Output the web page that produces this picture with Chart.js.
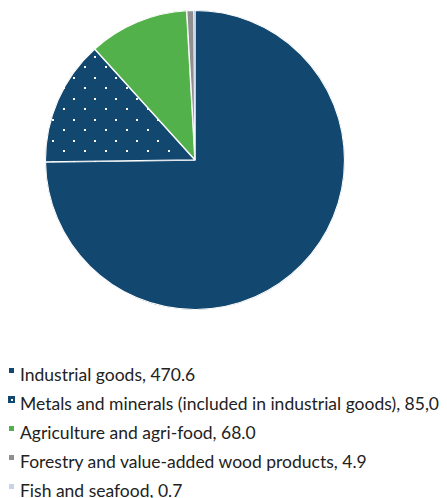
<!DOCTYPE html>
<html>
<head>
<meta charset="utf-8">
<script src="https://cdn.jsdelivr.net/npm/chart.js@4/dist/chart.umd.min.js"></script>
<style>
  body { margin: 0; background: #fff; width: 447px; height: 498px; overflow: hidden; position: relative; }
  #chartWrap { position: absolute; left: 0; top: 0; width: 447px; height: 320px; }
  #legend { position: absolute; left: 0; top: 360px; font-family: Lato, "Open Sans", sans-serif; font-size: 17.5px; color: #222; }
  .item { position: relative; height: 29px; line-height: 29px; padding-left: 20px; white-space: nowrap; }
  .swatch { position: absolute; left: 9px; top: 8px; width: 5px; height: 5px; }
  .swatch.pattern { left: 8px; top: 7px; width: 7px; height: 7px; }
  .swatch.pattern::after { content: ''; position: absolute; left: 2.5px; top: 2.5px; width: 2px; height: 2px; background: #fff; }
</style>
</head>
<body>
<div id="chartWrap"><canvas id="exportsChart"></canvas></div>
<div id="legend"></div>
<script>
// Export categories and values
const categories = [
    'Industrial goods',
    'Metals and minerals (included in industrial goods)',
    'Agriculture and agri-food',
    'Forestry and value-added wood products',
    'Fish and seafood'
];
const values = [470.6, 85.0, 68.0, 4.9, 0.7];
const valueLabels = ['470.6', '85,0', '68.0', '4.9', '0.7'];
const sliceColors = ['#12476f', '#12476f', '#53b14b', '#8f8f8f', '#c6d4ea'];
const dotted = [false, true, false, false, false];

// Dark blue fill with a staggered grid of white dots
function dotPattern(color) {
    const tile = document.createElement('canvas');
    tile.width = 21;
    tile.height = 21;
    const c = tile.getContext('2d');
    c.fillStyle = color;
    c.fillRect(0, 0, 21, 21);
    c.fillStyle = '#ffffff';
    c.fillRect(0, 3, 2, 2);
    c.fillRect(10, 14, 2, 2);
    return c.createPattern(tile, 'repeat');
}

const ctx = document.getElementById('exportsChart').getContext('2d');
const fills = sliceColors.map((col, i) => dotted[i] ? dotPattern(col) : col);
// the tiny last slice gets no border so it stays visible
const borders = values.map(v => v < 1 ? 0 : 0.75);

new Chart(ctx, {
    type: 'pie',
    data: {
        labels: categories,
        datasets: [{
            data: values,
            backgroundColor: fills,
            borderColor: '#ffffff',
            borderWidth: borders,
            borderAlign: 'inner'
        }]
    },
    options: {
        responsive: true,
        maintainAspectRatio: false,
        animation: false,
        layout: {
            padding: { left: 45, right: 102, top: 10, bottom: 10 }
        },
        plugins: {
            legend: { display: false },
            tooltip: { enabled: false }
        }
    }
});

// Legend below the pie
const legend = document.getElementById('legend');
categories.forEach((name, i) => {
    const row = document.createElement('div');
    row.className = 'item';
    const swatch = document.createElement('span');
    swatch.className = dotted[i] ? 'swatch pattern' : 'swatch';
    swatch.style.background = sliceColors[i];
    row.appendChild(swatch);
    row.appendChild(document.createTextNode(`${name}, ${valueLabels[i]}`));
    legend.appendChild(row);
});
</script>
</body>
</html>
